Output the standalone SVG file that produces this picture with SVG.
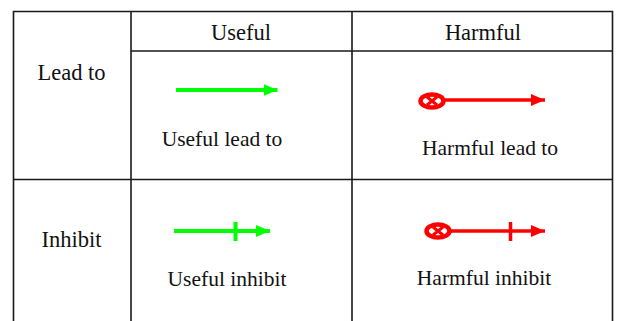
<svg xmlns="http://www.w3.org/2000/svg" width="617" height="321" viewBox="0 0 617 321">
<style>
.grid{stroke:#1a1a1a;stroke-width:1.6;fill:none}
text{font-family:'Liberation Serif','DejaVu Serif','Times New Roman',serif;fill:#111;text-anchor:middle}
.h{font-size:22.5px}
.l{font-size:21.5px}
.g{stroke:#00ff00;stroke-width:4;fill:none}
.r{stroke:#ff0000;stroke-width:3.5;fill:none}
</style>
<defs>
<marker id="ag" markerUnits="userSpaceOnUse" markerWidth="15" markerHeight="14" refX="14" refY="7" orient="auto"><path d="M0,1 L14,7 L0,13 Z" fill="#00ff00"/></marker>
<marker id="ar" markerUnits="userSpaceOnUse" markerWidth="15" markerHeight="14" refX="14" refY="7" orient="auto"><path d="M0,1 L14,7 L0,13 Z" fill="#ff0000"/></marker>
<g id="harm-src">
<ellipse cx="0" cy="0" rx="11.5" ry="6.5" fill="#fff" stroke="#ff0000" stroke-width="4.5"/>
<path d="M-5,-4 L5,4 M-5,4 L5,-4" stroke="#ff0000" stroke-width="3"/>
</g>
</defs>
<rect width="617" height="321" fill="#fff"/>
<g id="table">
<path class="grid" d="M13.5,321 V11.5 H612.5 V321 M131,11.5 V321 M352,11.5 V321 M131,51 H612.5 M13.5,179.5 H612.5"/>
</g>
<g id="header-useful"><text class="h" x="241" y="40" font-family="Liberation Serif, serif">Useful</text></g>
<g id="header-harmful"><text class="h" x="483" y="40" font-family="Liberation Serif, serif">Harmful</text></g>
<g id="row-lead"><text class="h" x="71.5" y="80" font-family="Liberation Serif, serif">Lead to</text></g>
<g id="row-inhibit"><text class="h" x="71.5" y="247" font-family="Liberation Serif, serif">Inhibit</text></g>
<g id="connectors">
<g id="useful-lead-to">
<line class="g" x1="176" y1="90" x2="277.5" y2="90" marker-end="url(#ag)"/>
</g>
<g id="harmful-lead-to">
<line class="r" x1="443" y1="100" x2="545" y2="100" marker-end="url(#ar)"/>
<use href="#harm-src" x="432" y="101"/>
</g>
<g id="useful-inhibit">
<line class="g" x1="174" y1="231" x2="270" y2="231" marker-end="url(#ag)"/>
<line class="g" x1="235.5" y1="222" x2="235.5" y2="241"/>
</g>
<g id="harmful-inhibit">
<line class="r" x1="450" y1="231" x2="545" y2="231" marker-end="url(#ar)"/>
<line class="r" x1="510.5" y1="222" x2="510.5" y2="241"/>
<use href="#harm-src" x="438" y="231"/>
</g>
</g>
<g id="label-useful-lead-to"><text class="l" x="222" y="146" font-family="Liberation Serif, serif">Useful lead to</text></g>
<g id="label-harmful-lead-to"><text class="l" x="490" y="155" font-family="Liberation Serif, serif">Harmful lead to</text></g>
<g id="label-useful-inhibit"><text class="l" x="227" y="286" font-family="Liberation Serif, serif">Useful inhibit</text></g>
<g id="label-harmful-inhibit"><text class="l" x="484" y="285" font-family="Liberation Serif, serif">Harmful inhibit</text></g>
</svg>
